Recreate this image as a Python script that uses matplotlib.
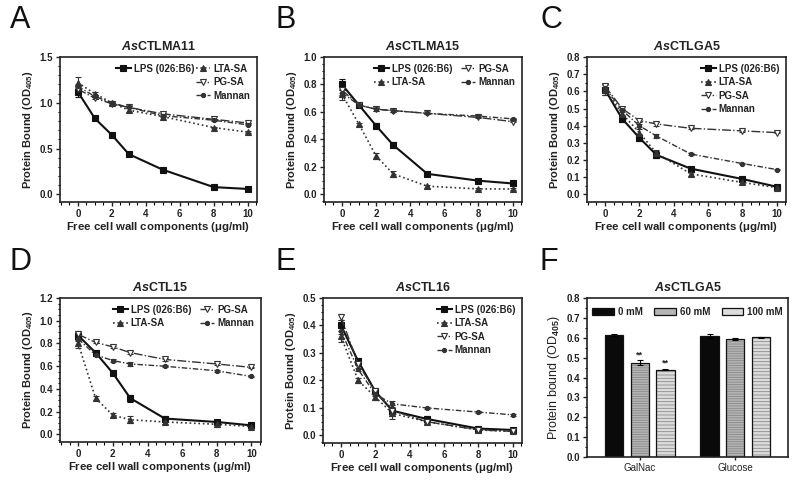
import matplotlib
matplotlib.use("Agg")
import matplotlib.pyplot as plt
from matplotlib.ticker import MultipleLocator
from matplotlib.patches import Patch
from matplotlib.lines import Line2D
import numpy as np

plt.rcParams['font.family'] = ['Liberation Sans', 'DejaVu Sans']
plt.rcParams['mathtext.fontset'] = 'custom'
plt.rcParams['mathtext.rm'] = 'Liberation Sans:bold'
plt.rcParams['mathtext.it'] = 'Liberation Sans:italic:bold'
plt.rcParams['mathtext.bf'] = 'Liberation Sans:bold'
plt.rcParams['hatch.linewidth'] = 0.6

TXT = '#222222'

conc = [0, 1, 2, 3, 5, 8, 10]
series_names = ["LPS (026:B6)", "LTA-SA", "PG-SA", "Mannan"]

# Panel A: AsCTLMA11
a_lps = [1.12, 0.83, 0.65, 0.44, 0.27, 0.08, 0.06]
a_lta = [1.22, 1.10, 1.00, 0.92, 0.85, 0.73, 0.68]
a_pg = [1.15, 1.05, 0.99, 0.95, 0.88, 0.82, 0.78]
a_man = [1.18, 1.07, 1.00, 0.95, 0.86, 0.81, 0.76]
a_err = [0.06, 0.02, 0.02, 0.02, 0.01, 0.01, 0.01]

# Panel B: AsCTLMA15
b_lps = [0.80, 0.65, 0.50, 0.36, 0.15, 0.10, 0.08]
b_lta = [0.73, 0.51, 0.28, 0.15, 0.06, 0.04, 0.04]
b_pg = [0.76, 0.65, 0.62, 0.61, 0.59, 0.56, 0.53]
b_man = [0.74, 0.65, 0.62, 0.61, 0.59, 0.57, 0.55]
b_err = [0.04, 0.01, 0.02, 0.02, 0.01, 0.01, 0.01]

# Panel C: AsCTLGA5
c_lps = [0.61, 0.44, 0.33, 0.23, 0.15, 0.09, 0.045]
c_lta = [0.61, 0.47, 0.36, 0.24, 0.12, 0.07, 0.04]
c_pg = [0.63, 0.50, 0.43, 0.41, 0.385, 0.37, 0.36]
c_man = [0.62, 0.49, 0.40, 0.34, 0.235, 0.18, 0.145]
c_err = [0.03, 0.02, 0.02, 0.02, 0.01, 0.01, 0.01]

# Panel D: AsCTL15
d_lps = [0.87, 0.72, 0.54, 0.32, 0.14, 0.11, 0.08]
d_lta = [0.80, 0.32, 0.17, 0.13, 0.11, 0.09, 0.07]
d_pg = [0.88, 0.81, 0.77, 0.72, 0.66, 0.62, 0.59]
d_man = [0.84, 0.70, 0.65, 0.62, 0.60, 0.56, 0.51]
d_err = [0.04, 0.02, 0.02, 0.03, 0.02, 0.02, 0.01]

# Panel E: AsCTL16
e_lps = [0.40, 0.27, 0.16, 0.09, 0.06, 0.025, 0.02]
e_lta = [0.36, 0.20, 0.14, 0.08, 0.05, 0.02, 0.015]
e_pg = [0.43, 0.26, 0.16, 0.09, 0.05, 0.02, 0.015]
e_man = [0.38, 0.24, 0.15, 0.115, 0.10, 0.085, 0.075]
e_err = [0.02, 0.01, 0.01, 0.02, 0.01, 0.005, 0.005]

# Panel F: AsCTLGA5 sugar inhibition
sugars = ["GalNac", "Glucose"]
sugar_conc = ["0 mM", "60 mM", "100 mM"]
f_vals = {"0 mM": [0.615, 0.61], "60 mM": [0.475, 0.595], "100 mM": [0.44, 0.602]}
f_err = {"0 mM": [0.004, 0.01], "60 mM": [0.012, 0.005], "100 mM": [0.004, 0.004]}
f_sig = {"0 mM": ["", ""], "60 mM": ["**", ""], "100 mM": ["**", ""]}

styles = [
    dict(color='#111111', ls='-', lw=1.5, marker='s', ms=4.5, mfc='#111111'),
    dict(color='#333333', ls=':', lw=1.2, marker='^', ms=4, mfc='#333333'),
    dict(color='#333333', ls='-.', lw=1.0, marker='v', ms=4.5, mfc='white'),
    dict(color='#333333', ls=(0, (4, 1.5, 1, 1.5)), lw=1.0, marker='o', ms=3, mfc='#333333'),
]

W, H = 800, 480
fig = plt.figure(figsize=(8, 4.8), dpi=100)


def box(x0, y0, x1, y1):
    return [x0 / W, 1 - y1 / H, (x1 - x0) / W, (y1 - y0) / H]


def style_axes(ax, ymaj, ymin_step):
    for s in ax.spines.values():
        s.set_linewidth(1.2)
        s.set_color('#222222')
    ax.tick_params(direction='out', length=3, width=1, labelsize=7, colors=TXT, pad=2)
    ax.tick_params(which='minor', direction='out', length=1.8, width=0.8)
    for lab in ax.get_xticklabels() + ax.get_yticklabels():
        lab.set_fontweight('bold')
    ax.yaxis.set_major_locator(MultipleLocator(ymaj))
    ax.yaxis.set_minor_locator(MultipleLocator(ymin_step))


def line_panel(rect, title, data, err, ymax, ymaj, ymin_step, legend_mode):
    ax = fig.add_axes(rect)
    handles = []
    for i, (vals, st) in enumerate(zip(data, styles)):
        e = err if i in (0, 1) else [v * 0.5 for v in err]
        ax.errorbar(conc, vals, yerr=e, capsize=2, elinewidth=0.8, capthick=0.8,
                    mec=st['color'], mew=0.8, **st)
        handles.append(Line2D([], [], mec=st['color'], mew=0.8, **st))
    ax.set_xlim(-1.05, 10.55)
    ax.set_ylim(-ymax * 0.055, ymax)
    ax.xaxis.set_major_locator(MultipleLocator(2))
    ax.xaxis.set_minor_locator(MultipleLocator(0.5))
    style_axes(ax, ymaj, ymin_step)
    ax.set_title(r"$\mathit{As}$" + title, fontsize=9, fontweight='bold', color=TXT, pad=5)
    ax.set_xlabel(r"Free cell wall components ($\mathbf{\mu}$g/ml)", fontsize=8.2,
                  fontweight='bold', color=TXT, labelpad=1)
    ax.set_ylabel(r"Protein Bound (OD$_{405}$)", fontsize=8, fontweight='bold', color=TXT,
                  labelpad=3)
    lkw = dict(frameon=False, handlelength=1.5, handletextpad=0.3,
               borderaxespad=0.3, labelcolor=TXT, prop=dict(weight='bold', size=7))
    if legend_mode == 'split':
        l1 = ax.legend(handles[:1], series_names[:1], loc='upper left',
                       bbox_to_anchor=(0.25, 1.0), **lkw)
        ax.add_artist(l1)
        ax.legend(handles[1:], series_names[1:], loc='upper right', labelspacing=0.35, **lkw)
    elif legend_mode == 'two':
        ax.legend(handles, series_names, ncol=2, loc='upper right', columnspacing=0.9,
                  labelspacing=0.35, **lkw)
    else:
        ax.legend(handles, series_names, loc='upper right', labelspacing=0.35, **lkw)
    return ax


line_panel(box(60, 57, 257, 202), "CTLMA11", [a_lps, a_lta, a_pg, a_man], a_err, 1.5, 0.5, 0.1, 'split')
line_panel(box(324, 57, 522, 202), "CTLMA15", [b_lps, b_lta, b_pg, b_man], b_err, 1.0, 0.2, 0.05, 'two')
line_panel(box(587, 57, 786, 202), "CTLGA5", [c_lps, c_lta, c_pg, c_man], c_err, 0.8, 0.1, 0.05, 'one')
line_panel(box(60, 298, 261, 442), "CTL15", [d_lps, d_lta, d_pg, d_man], d_err, 1.2, 0.2, 0.05, 'two')
line_panel(box(323, 298, 522, 443), "CTL16", [e_lps, e_lta, e_pg, e_man], e_err, 0.5, 0.1, 0.025, 'one')

# Panel F bars
axf = fig.add_axes(box(587, 298, 788, 457))
bar_faces = ['#0a0a0a', '#b4b4b4', '#dcdcdc']
hatch_cols = ['#0a0a0a', '#8a8a8a', '#8a8a8a']
hatches = [None, '-------', '-----']
xg = np.arange(len(sugars))
bw = 0.19
gap = 0.27
leg_handles = []
for i, c in enumerate(sugar_conc):
    xs = xg + (i - 1) * gap
    # fill + hatch layer
    axf.bar(xs, f_vals[c], width=bw, color=bar_faces[i], edgecolor=hatch_cols[i],
            linewidth=0, hatch=hatches[i])
    # outline + error bars
    axf.bar(xs, f_vals[c], width=bw, fill=False, edgecolor='#111111', linewidth=0.9,
            yerr=f_err[c], capsize=2, error_kw=dict(elinewidth=0.8, capthick=0.8))
    for x, v, er, s in zip(xs, f_vals[c], f_err[c], f_sig[c]):
        if s:
            axf.text(x, v + er + 0.005, s, ha='center', va='bottom', fontsize=6.5,
                     fontweight='bold', color=TXT)
    leg_handles.append(Patch(facecolor=bar_faces[i], edgecolor='#111111', linewidth=0.9))
axf.set_xlim(-0.55, 1.55)
axf.set_ylim(0, 0.8)
axf.set_xticks(xg)
axf.set_xticklabels(sugars)
style_axes(axf, 0.1, 0.05)
axf.tick_params(axis='x', length=2)
for lab in axf.get_xticklabels():
    lab.set_fontweight('normal')
axf.set_title(r"$\mathit{As}$CTLGA5", fontsize=9, fontweight='bold', color=TXT, pad=5)
axf.set_ylabel(r"Protein bound (OD$_{405}$)", fontsize=9, color=TXT, labelpad=3)
axf.legend(leg_handles, sugar_conc, ncol=3, loc='upper center', frameon=False,
           handlelength=2.2, handleheight=0.7, columnspacing=1.2, handletextpad=0.4,
           borderaxespad=0.5, prop=dict(weight='bold', size=7), labelcolor=TXT)

# Panel letters
for lab, (x, y) in zip("ABCDEF", [(10, 5), (275, 5), (540, 5), (10, 247), (275, 247), (540, 247)]):
    fig.text(x / W, 1 - y / H, lab, fontsize=22, va='top', ha='left', color='#111111')

fig.savefig("out.png", dpi=100)
